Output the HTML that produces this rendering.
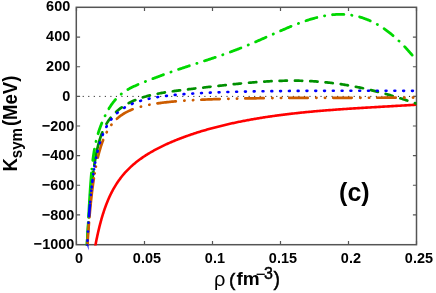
<!DOCTYPE html>
<html><head><meta charset="utf-8"><title>Ksym</title>
<style>
html,body{margin:0;padding:0;background:#fff;}
body{width:436px;height:293px;overflow:hidden;position:relative;font-family:"Liberation Sans",sans-serif;}
svg{will-change:transform;}
</style></head><body>
<svg width="436" height="293" viewBox="0 0 436 293" style="position:absolute;left:0;top:0">
<rect width="436" height="293" fill="#fff"/>
<line x1="82.7" y1="96.4" x2="416.5" y2="96.4" stroke="#222" stroke-width="1" stroke-dasharray="1.1 4.43"/>
<defs><clipPath id="cp"><rect x="76.5" y="7.5" width="340.0" height="237.9"/></clipPath></defs>
<rect x="76.3" y="7.3" width="340.2" height="237.4" fill="none" stroke="#555" stroke-width="1.5"/>
<path d="M76.50,244.5v-3.6M76.50,7.5v3.6M144.50,244.5v-3.6M144.50,7.5v3.6M212.50,244.5v-3.6M212.50,7.5v3.6M280.50,244.5v-3.6M280.50,7.5v3.6M348.50,244.5v-3.6M348.50,7.5v3.6M416.50,244.5v-3.6M416.50,7.5v3.6M76.5,7.500h3.6M416.5,7.500h-3.6M76.5,37.125h3.6M416.5,37.125h-3.6M76.5,66.750h3.6M416.5,66.750h-3.6M76.5,96.375h3.6M416.5,96.375h-3.6M76.5,126.000h3.6M416.5,126.000h-3.6M76.5,155.625h3.6M416.5,155.625h-3.6M76.5,185.250h3.6M416.5,185.250h-3.6M76.5,214.875h3.6M416.5,214.875h-3.6M76.5,244.500h3.6M416.5,244.500h-3.6" stroke="#555" stroke-width="1.2" fill="none"/>
<g clip-path="url(#cp)" fill="none" stroke-linejoin="round">
<path d="M95.20,246.51L95.35,245.71L95.50,244.91L95.65,244.13L95.80,243.35L95.95,242.58L96.10,241.82L96.25,241.06L96.40,240.31L96.55,239.57L96.70,238.84L96.85,238.12L97.00,237.40L97.15,236.69L97.30,235.99L97.45,235.29L97.60,234.61L97.75,233.92L97.90,233.25L98.05,232.58L98.20,231.92L98.35,231.27L98.50,230.62L98.65,229.98L98.80,229.35L98.95,228.72L99.10,228.10L99.25,227.49L99.40,226.88L99.55,226.28L99.70,225.68L99.85,225.09L100.00,224.51L100.15,223.93L100.30,223.35L100.45,222.79L100.60,222.23L100.75,221.67L100.90,221.12L101.05,220.58L101.20,220.04L101.35,219.50L101.50,218.97L101.65,218.45L101.80,217.93L101.95,217.42L102.10,216.91L102.25,216.40L102.40,215.90L102.55,215.41L102.70,214.92L102.85,214.43L103.00,213.95L103.15,213.48L103.30,213.01L103.45,212.54L103.60,212.07L103.75,211.62L103.90,211.16L104.05,210.71L104.20,210.27L104.35,209.82L104.50,209.39L104.65,208.95L104.80,208.52L104.95,208.10L105.10,207.67L105.25,207.25L105.40,206.84L105.55,206.43L105.70,206.02L105.85,205.62L106.00,205.22L106.15,204.82L106.30,204.43L106.45,204.04L106.60,203.65L106.75,203.27L106.90,202.89L107.05,202.51L107.20,202.14L107.35,201.77L107.50,201.40L107.65,201.03L107.80,200.67L107.95,200.32L108.10,199.96L108.25,199.61L108.40,199.26L108.55,198.91L108.70,198.57L108.85,198.23L109.00,197.89L109.15,197.56L109.30,197.22L109.45,196.89L109.60,196.57L109.75,196.24L109.90,195.92L110.05,195.60L110.20,195.28L110.35,194.97L110.50,194.66L110.65,194.35L110.80,194.04L110.95,193.73L111.10,193.43L111.25,193.13L111.40,192.83L111.55,192.54L111.70,192.24L111.85,191.95L112.00,191.66L112.15,191.38L112.30,191.09L112.45,190.81L112.60,190.53L112.75,190.25L112.90,189.97L113.05,189.70L113.20,189.43L113.35,189.16L113.50,188.89L113.65,188.62L113.80,188.36L113.95,188.09L114.10,187.83L114.25,187.57L114.40,187.32L114.55,187.06L114.70,186.81L114.85,186.56L115.00,186.31L115.15,186.06L115.30,185.81L115.45,185.56L115.60,185.32L115.75,185.08L115.90,184.84L116.05,184.60L116.20,184.36L116.35,184.13L116.50,183.89L116.65,183.66L116.80,183.43L116.95,183.20L117.10,182.97L117.25,182.75L117.40,182.52L117.55,182.30L117.70,182.08L117.85,181.86L118.00,181.64L118.15,181.42L118.30,181.20L118.45,180.99L118.60,180.77L118.75,180.56L118.90,180.35L119.05,180.14L119.20,179.93L119.35,179.72L119.50,179.52L119.65,179.31L119.80,179.11L119.95,178.91L120.00,178.84L121.00,177.52L122.00,176.26L123.00,175.04L124.00,173.86L125.00,172.73L126.00,171.63L127.00,170.57L128.00,169.55L129.00,168.55L130.00,167.59L131.00,166.65L132.00,165.75L133.00,164.86L134.00,164.01L135.00,163.17L136.00,162.36L137.00,161.57L138.00,160.79L139.00,160.04L140.00,159.30L141.00,158.58L142.00,157.88L143.00,157.19L144.00,156.51L145.00,155.85L146.00,155.21L147.00,154.57L148.00,153.95L149.00,153.34L150.00,152.74L151.00,152.16L152.00,151.58L153.00,151.01L154.00,150.46L155.00,149.91L156.00,149.37L157.00,148.84L158.00,148.32L159.00,147.80L160.00,147.30L161.00,146.80L162.00,146.31L163.00,145.83L164.00,145.35L165.00,144.88L166.00,144.42L167.00,143.96L168.00,143.51L169.00,143.07L170.00,142.63L171.00,142.20L172.00,141.77L173.00,141.35L174.00,140.93L175.00,140.52L176.00,140.12L177.00,139.71L178.00,139.32L179.00,138.93L180.00,138.54L181.00,138.16L182.00,137.78L183.00,137.41L184.00,137.04L185.00,136.68L186.00,136.31L187.00,135.96L188.00,135.61L189.00,135.26L190.00,134.91L191.00,134.57L192.00,134.24L193.00,133.90L194.00,133.57L195.00,133.25L196.00,132.93L197.00,132.61L198.00,132.29L199.00,131.98L200.00,131.67L201.00,131.36L202.00,131.06L203.00,130.76L204.00,130.47L205.00,130.17L206.00,129.89L207.00,129.60L208.00,129.32L209.00,129.03L210.00,128.76L211.00,128.48L212.00,128.21L213.00,127.94L214.00,127.68L215.00,127.41L216.00,127.15L217.00,126.89L218.00,126.64L219.00,126.39L220.00,126.14L221.00,125.89L222.00,125.64L223.00,125.40L224.00,125.16L225.00,124.92L226.00,124.69L227.00,124.46L228.00,124.23L229.00,124.00L230.00,123.78L231.00,123.55L232.00,123.33L233.00,123.11L234.00,122.90L235.00,122.68L236.00,122.47L237.00,122.26L238.00,122.06L239.00,121.85L240.00,121.65L241.00,121.45L242.00,121.25L243.00,121.06L244.00,120.86L245.00,120.67L246.00,120.48L247.00,120.29L248.00,120.11L249.00,119.92L250.00,119.74L251.00,119.56L252.00,119.38L253.00,119.21L254.00,119.03L255.00,118.86L256.00,118.69L257.00,118.52L258.00,118.35L259.00,118.19L260.00,118.02L261.00,117.86L262.00,117.70L263.00,117.54L264.00,117.39L265.00,117.23L266.00,117.08L267.00,116.93L268.00,116.78L269.00,116.63L270.00,116.49L271.00,116.34L272.00,116.20L273.00,116.06L274.00,115.92L275.00,115.78L276.00,115.64L277.00,115.51L278.00,115.37L279.00,115.24L280.00,115.11L281.00,114.98L282.00,114.85L283.00,114.72L284.00,114.60L285.00,114.47L286.00,114.35L287.00,114.23L288.00,114.11L289.00,113.99L290.00,113.87L291.00,113.76L292.00,113.64L293.00,113.53L294.00,113.42L295.00,113.31L296.00,113.20L297.00,113.09L298.00,112.98L299.00,112.87L300.00,112.77L301.00,112.66L302.00,112.56L303.00,112.46L304.00,112.36L305.00,112.26L306.00,112.16L307.00,112.06L308.00,111.97L309.00,111.87L310.00,111.78L311.00,111.68L312.00,111.59L313.00,111.50L314.00,111.41L315.00,111.32L316.00,111.23L317.00,111.14L318.00,111.06L319.00,110.97L320.00,110.89L321.00,110.80L322.00,110.72L323.00,110.64L324.00,110.55L325.00,110.47L326.00,110.39L327.00,110.31L328.00,110.23L329.00,110.16L330.00,110.08L331.00,110.00L332.00,109.93L333.00,109.85L334.00,109.78L335.00,109.70L336.00,109.63L337.00,109.56L338.00,109.49L339.00,109.41L340.00,109.34L341.00,109.27L342.00,109.20L343.00,109.14L344.00,109.07L345.00,109.00L346.00,108.93L347.00,108.86L348.00,108.80L349.00,108.73L350.00,108.67L351.00,108.60L352.00,108.54L353.00,108.47L354.00,108.41L355.00,108.35L356.00,108.28L357.00,108.22L358.00,108.16L359.00,108.10L360.00,108.03L361.00,107.97L362.00,107.91L363.00,107.85L364.00,107.79L365.00,107.73L366.00,107.67L367.00,107.61L368.00,107.55L369.00,107.49L370.00,107.43L371.00,107.37L372.00,107.31L373.00,107.25L374.00,107.20L375.00,107.14L376.00,107.08L377.00,107.02L378.00,106.96L379.00,106.91L380.00,106.85L381.00,106.79L382.00,106.73L383.00,106.67L384.00,106.62L385.00,106.56L386.00,106.50L387.00,106.44L388.00,106.38L389.00,106.33L390.00,106.27L391.00,106.21L392.00,106.15L393.00,106.09L394.00,106.04L395.00,105.98L396.00,105.92L397.00,105.86L398.00,105.80L399.00,105.74L400.00,105.68L401.00,105.62L402.00,105.57L403.00,105.51L404.00,105.45L405.00,105.39L406.00,105.33L407.00,105.26L408.00,105.20L409.00,105.14L410.00,105.08L411.00,105.02L412.00,104.96L413.00,104.89L414.00,104.83L415.00,104.77L416.00,104.70L416.50,104.67" stroke="#ff0000" stroke-width="2.6" stroke-linecap="butt"/>
<path d="M104.05,128.37L104.20,128.06L104.35,127.75L104.50,127.45L104.65,127.15L104.80,126.86L104.95,126.56L105.10,126.28L105.25,125.99L105.40,125.71L105.55,125.44L105.70,125.17L105.85,124.90L106.00,124.63L106.15,124.37L106.30,124.11L106.45,123.85L106.60,123.60L106.75,123.35L106.90,123.10L107.05,122.86L107.20,122.62L107.35,122.38L107.50,122.14L107.65,121.91L107.80,121.68L107.95,121.45L108.10,121.22L108.25,121.00L108.40,120.78L108.55,120.56L108.70,120.35L108.85,120.13L109.00,119.92L109.15,119.71L109.30,119.51L109.45,119.30L109.60,119.10L109.75,118.90L109.90,118.70L110.05,118.51L110.20,118.31L110.35,118.12L110.50,117.93L110.65,117.74L110.80,117.55L110.95,117.37L111.10,117.18L111.25,117.00L111.40,116.82L111.55,116.64L111.70,116.47L111.85,116.29L112.00,116.12L112.15,115.95L112.30,115.78L112.45,115.61L112.60,115.44L112.75,115.27L112.90,115.11L113.05,114.95L113.20,114.79L113.35,114.63L113.50,114.47L113.65,114.31L113.80,114.15L113.95,114.00L114.10,113.84L114.25,113.69L114.40,113.54L114.55,113.39L114.70,113.24L114.85,113.10L115.00,112.95L115.15,112.80L115.30,112.66L115.45,112.52L115.60,112.38L115.75,112.24L115.90,112.10L116.05,111.96L116.20,111.82L116.35,111.68L116.50,111.55L116.65,111.42L116.80,111.28L116.95,111.15L117.10,111.02L117.25,110.89L117.40,110.76L117.55,110.63L117.70,110.50L117.85,110.38L118.00,110.25L118.15,110.13L118.30,110.00L118.45,109.88L118.60,109.76L118.75,109.64L118.90,109.52L119.05,109.40L119.20,109.28L119.35,109.16L119.50,109.04L119.65,108.93L119.80,108.81L119.95,108.70L120.00,108.66L121.00,107.92L122.00,107.21L123.00,106.53L124.00,105.87L125.00,105.25L126.00,104.65L127.00,104.07L128.00,103.52L129.00,102.99L130.00,102.47L131.00,101.98L132.00,101.51L133.00,101.05L134.00,100.61L135.00,100.19L136.00,99.79L137.00,99.39L138.00,99.01L139.00,98.65L140.00,98.30L141.00,97.96L142.00,97.63L143.00,97.32L144.00,97.01L145.00,96.72L146.00,96.43L147.00,96.16L148.00,95.89L149.00,95.63L150.00,95.38L151.00,95.14L152.00,94.91L153.00,94.68L154.00,94.46L155.00,94.25L156.00,94.04L157.00,93.84L158.00,93.65L159.00,93.46L160.00,93.27L161.00,93.09L162.00,92.92L163.00,92.75L164.00,92.58L165.00,92.42L166.00,92.26L167.00,92.10L168.00,91.95L169.00,91.80L170.00,91.65L171.00,91.50L172.00,91.36L173.00,91.22L174.00,91.09L175.00,90.95L176.00,90.82L177.00,90.68L178.00,90.55L179.00,90.43L180.00,90.30L181.00,90.17L182.00,90.05L183.00,89.92L184.00,89.80L185.00,89.68L186.00,89.56L187.00,89.44L188.00,89.32L189.00,89.20L190.00,89.08L191.00,88.97L192.00,88.85L193.00,88.73L194.00,88.62L195.00,88.50L196.00,88.39L197.00,88.27L198.00,88.16L199.00,88.04L200.00,87.93L201.00,87.82L202.00,87.70L203.00,87.59L204.00,87.48L205.00,87.36L206.00,87.25L207.00,87.14L208.00,87.02L209.00,86.91L210.00,86.80L211.00,86.69L212.00,86.58L213.00,86.46L214.00,86.35L215.00,86.24L216.00,86.13L217.00,86.02L218.00,85.91L219.00,85.80L220.00,85.69L221.00,85.58L222.00,85.47L223.00,85.36L224.00,85.25L225.00,85.14L226.00,85.03L227.00,84.93L228.00,84.82L229.00,84.71L230.00,84.61L231.00,84.50L232.00,84.40L233.00,84.29L234.00,84.19L235.00,84.09L236.00,83.99L237.00,83.89L238.00,83.79L239.00,83.69L240.00,83.59L241.00,83.49L242.00,83.39L243.00,83.30L244.00,83.20L245.00,83.11L246.00,83.02L247.00,82.93L248.00,82.84L249.00,82.75L250.00,82.66L251.00,82.58L252.00,82.49L253.00,82.41L254.00,82.33L255.00,82.25L256.00,82.17L257.00,82.09L258.00,82.02L259.00,81.94L260.00,81.87L261.00,81.80L262.00,81.73L263.00,81.67L264.00,81.60L265.00,81.54L266.00,81.48L267.00,81.42L268.00,81.36L269.00,81.30L270.00,81.25L271.00,81.20L272.00,81.15L273.00,81.10L274.00,81.06L275.00,81.01L276.00,80.97L277.00,80.93L278.00,80.90L279.00,80.86L280.00,80.83L281.00,80.80L282.00,80.78L283.00,80.75L284.00,80.73L285.00,80.71L286.00,80.69L287.00,80.68L288.00,80.67L289.00,80.66L290.00,80.65L291.00,80.65L292.00,80.65L293.00,80.65L294.00,80.65L295.00,80.66L296.00,80.67L297.00,80.68L298.00,80.70L299.00,80.71L300.00,80.73L301.00,80.76L302.00,80.78L303.00,80.81L304.00,80.85L305.00,80.88L306.00,80.92L307.00,80.96L308.00,81.01L309.00,81.05L310.00,81.10L311.00,81.16L312.00,81.21L313.00,81.27L314.00,81.33L315.00,81.40L316.00,81.47L317.00,81.54L318.00,81.61L319.00,81.69L320.00,81.77L321.00,81.86L322.00,81.95L323.00,82.04L324.00,82.13L325.00,82.23L326.00,82.33L327.00,82.43L328.00,82.54L329.00,82.65L330.00,82.76L331.00,82.87L332.00,82.99L333.00,83.12L334.00,83.24L335.00,83.37L336.00,83.50L337.00,83.64L338.00,83.77L339.00,83.92L340.00,84.06L341.00,84.21L342.00,84.36L343.00,84.51L344.00,84.67L345.00,84.83L346.00,85.00L347.00,85.16L348.00,85.33L349.00,85.51L350.00,85.68L351.00,85.86L352.00,86.04L353.00,86.23L354.00,86.42L355.00,86.61L356.00,86.80L357.00,87.00L358.00,87.20L359.00,87.41L360.00,87.62L361.00,87.83L362.00,88.04L363.00,88.25L364.00,88.47L365.00,88.70L366.00,88.92L367.00,89.15L368.00,89.38L369.00,89.61L370.00,89.85L371.00,90.09L372.00,90.33L373.00,90.58L374.00,90.83L375.00,91.08L376.00,91.33L377.00,91.59L378.00,91.85L379.00,92.11L380.00,92.37L381.00,92.64L382.00,92.91L383.00,93.18L384.00,93.46L385.00,93.74L386.00,94.02L387.00,94.30L388.00,94.58L389.00,94.87L390.00,95.16L391.00,95.45L392.00,95.75L393.00,96.05L394.00,96.35L395.00,96.65L396.00,96.95L397.00,97.26L398.00,97.57L399.00,97.88L400.00,98.19L401.00,98.51L402.00,98.83L403.00,99.15L404.00,99.47L405.00,99.79L406.00,100.12L407.00,100.44L408.00,100.77L409.00,101.10L410.00,101.44L411.00,101.77L412.00,102.11L413.00,102.45L414.00,102.79L415.00,103.13L416.00,103.48L416.50,103.65" stroke="#009000" stroke-width="2.7" stroke-linecap="round" stroke-dasharray="7.3 8.03" stroke-dashoffset="10.12"/>
<path d="M102.30,132.35L102.25,132.48L102.10,132.85L101.95,133.24L101.80,133.62L101.65,134.02L101.50,134.42L101.35,134.83L101.20,135.24L101.05,135.66L100.90,136.09L100.75,136.52L100.60,136.96L100.45,137.41L100.30,137.87L100.15,138.33L100.00,138.81L99.85,139.29L99.70,139.78L99.55,140.27L99.40,140.78L99.25,141.29L99.10,141.82L98.95,142.35L98.80,142.90L98.65,143.45L98.50,144.01L98.35,144.59L98.20,145.17L98.05,145.77L97.90,146.37L97.75,146.99L97.60,147.62L97.45,148.26L97.30,148.92L97.15,149.58L97.00,150.26L96.85,150.96L96.70,151.66L96.55,152.39L96.40,153.12L96.25,153.87L96.10,154.64L95.95,155.42L95.80,156.21L95.65,157.02L95.50,157.85L95.35,158.70L95.20,159.56L95.05,160.44L94.90,161.34L94.75,162.26L94.60,163.20L94.45,164.15L94.30,165.13L94.30,165.15M93.41,171.35L93.40,171.43L93.25,172.56L93.10,173.72L92.95,174.90L92.80,176.10L92.65,177.33L92.50,178.58L92.35,179.86L92.20,181.17L92.05,182.50L91.90,183.86L91.75,185.25L91.60,186.67L91.45,188.12L91.30,189.59L91.15,191.10L91.00,192.64L90.85,194.20L90.70,195.80L90.55,197.43L90.40,199.08L90.25,200.77L90.10,202.49L89.95,204.24L89.80,206.03L89.65,207.84L89.50,209.68L89.35,211.55L89.20,213.45L89.05,215.37L88.91,217.15M88.50,222.65L88.45,223.33L88.30,225.38L88.15,227.44L88.00,229.51L87.85,231.60L87.70,233.69L87.55,235.79L87.40,237.88L87.25,239.97L87.10,242.05L87.10,245.65" stroke="#009000" stroke-width="2.7" stroke-linecap="round"/>
<path d="M92.30,164.81L92.45,163.46L92.60,162.16L92.75,160.90L92.90,159.68L93.05,158.51L93.20,157.37L93.35,156.27L93.50,155.21L93.65,154.18L93.80,153.18L93.95,152.21L94.10,151.28L94.25,150.37L94.40,149.49L94.55,148.63L94.70,147.80L94.85,146.99L95.00,146.21L95.15,145.44L95.30,144.70L95.45,143.97L95.60,143.27L95.75,142.58L95.90,141.91L96.05,141.25L96.20,140.61L96.35,139.99L96.50,139.38L96.65,138.78L96.80,138.19L96.95,137.61L97.10,137.05L97.25,136.50L97.40,135.96L97.55,135.42L97.70,134.90L97.85,134.39L98.00,133.88L98.15,133.39L98.30,132.90L98.45,132.42L98.60,131.94L98.75,131.47L98.90,131.01L99.05,130.56L99.20,130.11L99.35,129.67L99.50,129.23L99.65,128.80L99.80,128.37L99.95,127.95L100.10,127.54L100.25,127.12L100.40,126.72L100.55,126.31L100.70,125.92L100.85,125.52L101.00,125.13L101.15,124.75L101.30,124.36L101.45,123.98L101.60,123.61L101.75,123.24L101.90,122.87L102.05,122.50L102.20,122.14L102.35,121.78L102.50,121.43L102.65,121.07L102.80,120.73L102.95,120.38L103.10,120.04L103.25,119.69L103.40,119.36L103.55,119.02L103.70,118.69L103.85,118.36L104.00,118.03L104.15,117.71L104.30,117.39L104.45,117.07L104.60,116.75L104.75,116.44L104.90,116.12L105.05,115.82L105.20,115.51L105.35,115.20L105.50,114.90L105.65,114.60L105.80,114.31L105.95,114.01L106.10,113.72L106.25,113.43L106.40,113.14L106.55,112.85L106.70,112.57L106.85,112.29L107.00,112.01L107.15,111.74L107.30,111.46L107.45,111.19L107.60,110.92L107.75,110.65L107.90,110.39L108.05,110.12L108.20,109.86L108.35,109.60L108.50,109.35L108.65,109.09L108.80,108.84L108.95,108.59L109.10,108.34L109.25,108.09L109.40,107.85L109.55,107.61L109.70,107.37L109.85,107.13L110.00,106.89L110.15,106.66L110.30,106.43L110.45,106.20L110.60,105.97L110.75,105.74L110.90,105.52L111.05,105.30L111.20,105.08L111.35,104.86L111.50,104.64L111.65,104.43L111.80,104.21L111.95,104.00L112.10,103.79L112.25,103.59L112.40,103.38L112.55,103.18L112.70,102.98L112.85,102.78L113.00,102.58L113.15,102.38L113.30,102.19L113.45,102.00L113.60,101.80L113.75,101.62L113.90,101.43L114.05,101.24L114.20,101.06L114.35,100.88L114.50,100.69L114.65,100.51L114.80,100.34L114.95,100.16L115.10,99.99L115.25,99.81L115.40,99.64L115.55,99.47L115.70,99.30L115.85,99.14L116.00,98.97L116.15,98.81L116.30,98.65L116.45,98.49L116.60,98.33L116.75,98.17L116.90,98.01L117.05,97.86L117.20,97.70L117.35,97.55L117.50,97.40L117.65,97.25L117.80,97.10L117.95,96.96L118.10,96.81L118.25,96.67L118.40,96.52L118.55,96.38L118.70,96.24L118.85,96.10L119.00,95.96L119.15,95.83L119.30,95.69L119.45,95.56L119.60,95.42L119.75,95.29L119.90,95.16L120.00,95.07L121.00,94.24L122.00,93.44L123.00,92.69L124.00,91.98L125.00,91.31L126.00,90.66L127.00,90.05L128.00,89.46L129.00,88.90L130.00,88.35L131.00,87.83L132.00,87.33L133.00,86.84L134.00,86.36L135.00,85.90L136.00,85.45L137.00,85.00L138.00,84.57L139.00,84.14L140.00,83.72L141.00,83.30L142.00,82.90L143.00,82.49L144.00,82.09L145.00,81.69L146.00,81.30L147.00,80.90L148.00,80.51L149.00,80.13L150.00,79.74L151.00,79.36L152.00,78.97L153.00,78.59L154.00,78.21L155.00,77.84L156.00,77.46L157.00,77.09L158.00,76.71L159.00,76.34L160.00,75.97L161.00,75.60L162.00,75.23L163.00,74.87L164.00,74.50L165.00,74.14L166.00,73.78L167.00,73.42L168.00,73.06L169.00,72.71L170.00,72.35L171.00,72.00L172.00,71.65L173.00,71.30L174.00,70.95L175.00,70.61L176.00,70.26L177.00,69.92L178.00,69.58L179.00,69.24L180.00,68.90L181.00,68.57L182.00,68.23L183.00,67.90L184.00,67.57L185.00,67.24L186.00,66.91L187.00,66.58L188.00,66.25L189.00,65.92L190.00,65.60L191.00,65.27L192.00,64.95L193.00,64.63L194.00,64.30L195.00,63.98L196.00,63.66L197.00,63.34L198.00,63.01L199.00,62.69L200.00,62.37L201.00,62.05L202.00,61.72L203.00,61.40L204.00,61.08L205.00,60.75L206.00,60.43L207.00,60.10L208.00,59.77L209.00,59.45L210.00,59.12L211.00,58.79L212.00,58.45L213.00,58.12L214.00,57.78L215.00,57.45L216.00,57.11L217.00,56.77L218.00,56.43L219.00,56.08L220.00,55.74L221.00,55.39L222.00,55.04L223.00,54.69L224.00,54.33L225.00,53.98L226.00,53.62L227.00,53.25L228.00,52.89L229.00,52.52L230.00,52.15L231.00,51.78L232.00,51.41L233.00,51.03L234.00,50.65L235.00,50.27L236.00,49.89L237.00,49.50L238.00,49.11L239.00,48.72L240.00,48.32L241.00,47.92L242.00,47.52L243.00,47.12L244.00,46.71L245.00,46.31L246.00,45.90L247.00,45.48L248.00,45.07L249.00,44.65L250.00,44.23L251.00,43.81L252.00,43.39L253.00,42.96L254.00,42.53L255.00,42.10L256.00,41.67L257.00,41.24L258.00,40.81L259.00,40.37L260.00,39.93L261.00,39.49L262.00,39.05L263.00,38.61L264.00,38.17L265.00,37.73L266.00,37.29L267.00,36.84L268.00,36.40L269.00,35.95L270.00,35.51L271.00,35.06L272.00,34.62L273.00,34.18L274.00,33.73L275.00,33.29L276.00,32.85L277.00,32.40L278.00,31.96L279.00,31.52L280.00,31.08L281.00,30.65L282.00,30.21L283.00,29.78L284.00,29.35L285.00,28.92L286.00,28.49L287.00,28.07L288.00,27.65L289.00,27.23L290.00,26.81L291.00,26.40L292.00,25.99L293.00,25.59L294.00,25.19L295.00,24.79L296.00,24.40L297.00,24.01L298.00,23.63L299.00,23.25L300.00,22.88L301.00,22.51L302.00,22.14L303.00,21.79L304.00,21.44L305.00,21.09L306.00,20.75L307.00,20.42L308.00,20.09L309.00,19.77L310.00,19.46L311.00,19.16L312.00,18.86L313.00,18.57L314.00,18.29L315.00,18.01L316.00,17.75L317.00,17.49L318.00,17.24L319.00,17.00L320.00,16.77L321.00,16.55L322.00,16.34L323.00,16.14L324.00,15.94L325.00,15.76L326.00,15.59L327.00,15.43L328.00,15.28L329.00,15.13L330.00,15.01L331.00,14.89L332.00,14.78L333.00,14.68L334.00,14.60L335.00,14.53L336.00,14.47L337.00,14.42L338.00,14.39L339.00,14.36L340.00,14.35L341.00,14.36L342.00,14.37L343.00,14.40L344.00,14.44L345.00,14.50L346.00,14.57L347.00,14.65L348.00,14.75L349.00,14.86L350.00,14.99L351.00,15.13L352.00,15.29L353.00,15.46L354.00,15.64L355.00,15.84L356.00,16.06L357.00,16.29L358.00,16.53L359.00,16.80L360.00,17.07L361.00,17.37L362.00,17.67L363.00,18.00L364.00,18.34L365.00,18.70L366.00,19.07L367.00,19.46L368.00,19.87L369.00,20.29L370.00,20.73L371.00,21.19L372.00,21.66L373.00,22.15L374.00,22.66L375.00,23.18L376.00,23.73L377.00,24.29L378.00,24.86L379.00,25.46L380.00,26.07L381.00,26.69L382.00,27.34L383.00,28.00L384.00,28.68L385.00,29.38L386.00,30.10L387.00,30.83L388.00,31.59L389.00,32.35L390.00,33.14L391.00,33.95L392.00,34.77L393.00,35.61L394.00,36.47L395.00,37.34L396.00,38.24L397.00,39.15L398.00,40.08L399.00,41.02L400.00,41.99L401.00,42.97L402.00,43.97L403.00,44.98L404.00,46.02L405.00,47.07L406.00,48.14L407.00,49.22L408.00,50.33L409.00,51.45L410.00,52.59L411.00,53.74L412.00,54.91L413.00,56.10L414.00,57.31L415.00,58.53L416.00,59.77L416.50,60.39" stroke="#00d800" stroke-width="2.8" stroke-linecap="round" stroke-dasharray="11.4 7.8 0.3 7.8" stroke-dashoffset="22.94"/>
<path d="M91.86,169.05L91.86,169.10M91.50,172.90L91.40,173.98L91.25,175.70L91.10,177.48L90.95,179.33L90.80,181.24L90.65,183.22L90.50,185.26L90.35,187.37L90.20,189.54L90.05,191.79L89.90,194.11L89.75,196.49L89.60,198.94L89.45,201.45L89.30,204.03L89.15,206.67L89.00,209.36L88.85,212.10L88.70,214.89L88.58,217.10M88.29,222.70L88.25,223.40L88.10,226.26L87.95,229.08L87.80,231.87L87.65,234.59L87.50,237.21L87.35,239.70L87.20,242.02L87.05,244.13L86.93,245.60" stroke="#00d800" stroke-width="2.8" stroke-linecap="round"/>
<path d="M97.00,161.13L97.15,160.45L97.30,159.78L97.45,159.11L97.60,158.46L97.75,157.82L97.90,157.19L98.05,156.56L98.20,155.95L98.35,155.35L98.50,154.75L98.65,154.17L98.80,153.59L98.95,153.02L99.10,152.46L99.25,151.91L99.40,151.37L99.55,150.83L99.70,150.30L99.85,149.78L100.00,149.27L100.15,148.76L100.30,148.27L100.45,147.78L100.60,147.29L100.75,146.82L100.90,146.34L101.05,145.88L101.20,145.42L101.35,144.97L101.50,144.53L101.65,144.09L101.80,143.66L101.95,143.23L102.10,142.81L102.25,142.39L102.40,141.98L102.55,141.58L102.70,141.18L102.85,140.79L103.00,140.40L103.15,140.02L103.30,139.64L103.45,139.27L103.60,138.90L103.75,138.53L103.90,138.17L104.05,137.82L104.20,137.47L104.35,137.13L104.50,136.78L104.65,136.45L104.80,136.12L104.95,135.79L105.10,135.46L105.25,135.14L105.40,134.83L105.55,134.52L105.70,134.21L105.85,133.90L106.00,133.60L106.15,133.30L106.30,133.01L106.45,132.72L106.60,132.43L106.75,132.15L106.90,131.87L107.05,131.60L107.20,131.32L107.35,131.05L107.50,130.79L107.65,130.52L107.80,130.26L107.95,130.00L108.10,129.75L108.25,129.50L108.40,129.25L108.55,129.00L108.70,128.76L108.85,128.52L109.00,128.28L109.15,128.05L109.30,127.82L109.45,127.59L109.60,127.36L109.75,127.13L109.90,126.91L110.05,126.69L110.20,126.48L110.35,126.26L110.50,126.05L110.65,125.84L110.80,125.63L110.95,125.42L111.10,125.22L111.25,125.02L111.40,124.82L111.55,124.62L111.70,124.43L111.85,124.24L112.00,124.05L112.15,123.86L112.30,123.67L112.45,123.49L112.60,123.30L112.75,123.12L112.90,122.94L113.05,122.77L113.20,122.59L113.35,122.42L113.50,122.25L113.65,122.08L113.80,121.91L113.95,121.74L114.10,121.58L114.25,121.41L114.40,121.25L114.55,121.09L114.70,120.93L114.85,120.77L115.00,120.62L115.15,120.47L115.30,120.31L115.45,120.16L115.60,120.01L115.75,119.86L115.90,119.72L116.05,119.57L116.20,119.43L116.35,119.29L116.50,119.15L116.65,119.01L116.80,118.87L116.95,118.73L117.10,118.60L117.25,118.46L117.40,118.33L117.55,118.20L117.70,118.07L117.85,117.94L118.00,117.81L118.15,117.68L118.30,117.56L118.45,117.43L118.60,117.31L118.75,117.19L118.90,117.06L119.05,116.94L119.20,116.82L119.35,116.71L119.50,116.59L119.65,116.47L119.80,116.36L119.95,116.25L120.00,116.21L121.00,115.48L122.00,114.79L123.00,114.13L124.00,113.52L125.00,112.94L126.00,112.38L127.00,111.86L128.00,111.36L129.00,110.89L130.00,110.44L131.00,110.01L132.00,109.60L133.00,109.22L134.00,108.85L135.00,108.49L136.00,108.15L137.00,107.83L138.00,107.52L139.00,107.22L140.00,106.94L141.00,106.67L142.00,106.40L143.00,106.15L144.00,105.91L145.00,105.68L146.00,105.46L147.00,105.24L148.00,105.03L149.00,104.83L150.00,104.64L151.00,104.46L152.00,104.28L153.00,104.10L154.00,103.94L155.00,103.77L156.00,103.62L157.00,103.47L158.00,103.32L159.00,103.18L160.00,103.04L161.00,102.91L162.00,102.78L163.00,102.65L164.00,102.53L165.00,102.42L166.00,102.30L167.00,102.19L168.00,102.08L169.00,101.98L170.00,101.88L171.00,101.78L172.00,101.68L173.00,101.59L174.00,101.50L175.00,101.41L176.00,101.32L177.00,101.24L178.00,101.16L179.00,101.08L180.00,101.00L181.00,100.92L182.00,100.85L183.00,100.78L184.00,100.71L185.00,100.64L186.00,100.57L187.00,100.51L188.00,100.44L189.00,100.38L190.00,100.32L191.00,100.26L192.00,100.20L193.00,100.15L194.00,100.09L195.00,100.04L196.00,99.99L197.00,99.93L198.00,99.88L199.00,99.84L200.00,99.79L201.00,99.74L202.00,99.69L203.00,99.65L204.00,99.61L205.00,99.56L206.00,99.52L207.00,99.48L208.00,99.44L209.00,99.40L210.00,99.36L211.00,99.33L212.00,99.29L213.00,99.25L214.00,99.22L215.00,99.19L216.00,99.15L217.00,99.12L218.00,99.09L219.00,99.06L220.00,99.03L221.00,99.00L222.00,98.97L223.00,98.94L224.00,98.91L225.00,98.88L226.00,98.86L227.00,98.83L228.00,98.80L229.00,98.78L230.00,98.75L231.00,98.73L232.00,98.71L233.00,98.68L234.00,98.66L235.00,98.64L236.00,98.62L237.00,98.60L238.00,98.58L239.00,98.56L240.00,98.54L241.00,98.52L242.00,98.50L243.00,98.48L244.00,98.46L245.00,98.44L246.00,98.43L247.00,98.41L248.00,98.39L249.00,98.38L250.00,98.36L251.00,98.35L252.00,98.33L253.00,98.32L254.00,98.30L255.00,98.29L256.00,98.28L257.00,98.26L258.00,98.25L259.00,98.24L260.00,98.22L261.00,98.21L262.00,98.20L263.00,98.19L264.00,98.18L265.00,98.17L266.00,98.16L267.00,98.15L268.00,98.14L269.00,98.13L270.00,98.12L271.00,98.11L272.00,98.10L273.00,98.09L274.00,98.08L275.00,98.07L276.00,98.06L277.00,98.06L278.00,98.05L279.00,98.04L280.00,98.03L281.00,98.02L282.00,98.02L283.00,98.01L284.00,98.00L285.00,98.00L286.00,97.99L287.00,97.99L288.00,97.98L289.00,97.97L290.00,97.97L291.00,97.96L292.00,97.96L293.00,97.95L294.00,97.95L295.00,97.94L296.00,97.94L297.00,97.93L298.00,97.93L299.00,97.92L300.00,97.92L301.00,97.91L302.00,97.91L303.00,97.91L304.00,97.90L305.00,97.90L306.00,97.89L307.00,97.89L308.00,97.89L309.00,97.88L310.00,97.88L311.00,97.88L312.00,97.88L313.00,97.87L314.00,97.87L315.00,97.87L316.00,97.86L317.00,97.86L318.00,97.86L319.00,97.86L320.00,97.85L321.00,97.85L322.00,97.85L323.00,97.85L324.00,97.84L325.00,97.84L326.00,97.84L327.00,97.84L328.00,97.84L329.00,97.83L330.00,97.83L331.00,97.83L332.00,97.83L333.00,97.83L334.00,97.82L335.00,97.82L336.00,97.82L337.00,97.82L338.00,97.82L339.00,97.81L340.00,97.81L341.00,97.81L342.00,97.81L343.00,97.81L344.00,97.81L345.00,97.80L346.00,97.80L347.00,97.80L348.00,97.80L349.00,97.80L350.00,97.80L351.00,97.79L352.00,97.79L353.00,97.79L354.00,97.79L355.00,97.79L356.00,97.79L357.00,97.78L358.00,97.78L359.00,97.78L360.00,97.78L361.00,97.78L362.00,97.78L363.00,97.77L364.00,97.77L365.00,97.77L366.00,97.77L367.00,97.77L368.00,97.76L369.00,97.76L370.00,97.76L371.00,97.76L372.00,97.75L373.00,97.75L374.00,97.75L375.00,97.75L376.00,97.75L377.00,97.74L378.00,97.74L379.00,97.74L380.00,97.74L381.00,97.73L382.00,97.73L383.00,97.73L384.00,97.72L385.00,97.72L386.00,97.72L387.00,97.71L388.00,97.71L389.00,97.71L390.00,97.71L391.00,97.70L392.00,97.70L393.00,97.70L394.00,97.69L395.00,97.69L396.00,97.68L397.00,97.68L398.00,97.68L399.00,97.67L400.00,97.67L401.00,97.66L402.00,97.66L403.00,97.66L404.00,97.65L405.00,97.65L406.00,97.64L407.00,97.64L408.00,97.63L409.00,97.63L410.00,97.62L411.00,97.62L412.00,97.61L413.00,97.61L414.00,97.60L415.00,97.60L416.00,97.59L416.50,97.59" stroke="#cc5c00" stroke-width="2.7" stroke-linecap="round" stroke-dasharray="18.5 8.5 0.3 8.4 0.3 8.0" stroke-dashoffset="40.47"/>
<path d="M95.88,166.60L95.87,166.65M94.66,173.40L94.65,173.45M93.87,178.35L93.85,178.46L93.70,179.45L93.55,180.46L93.40,181.49L93.25,182.53L93.10,183.60L92.95,184.69L92.80,185.79L92.65,186.92L92.50,188.07L92.35,189.24L92.20,190.43L92.05,191.65L91.90,192.89L91.75,194.15L91.60,195.44L91.45,196.75L91.30,198.09L91.15,199.46L91.00,200.85L90.85,202.28L90.70,203.73L90.55,205.21L90.40,206.72L90.25,208.26L90.10,209.84L89.95,211.45L89.80,213.09L89.65,214.77L89.50,216.48L89.44,217.15M88.99,222.65L88.90,223.72L88.75,225.62L88.60,227.58L88.45,229.57L88.30,231.61L88.15,233.70L88.00,235.84L87.85,238.02L87.70,240.26L87.70,245.65" stroke="#cc5c00" stroke-width="2.7" stroke-linecap="round"/>
<path d="M97.00,153.69L97.15,153.04L97.30,152.39L97.45,151.76L97.60,151.14L97.75,150.52L97.90,149.92L98.05,149.33L98.20,148.74L98.35,148.17L98.50,147.60L98.65,147.05L98.80,146.50L98.95,145.96L99.10,145.43L99.25,144.90L99.40,144.39L99.55,143.88L99.70,143.38L99.85,142.89L100.00,142.40L100.15,141.93L100.30,141.45L100.45,140.99L100.60,140.53L100.75,140.08L100.90,139.64L101.05,139.20L101.20,138.77L101.35,138.34L101.50,137.92L101.65,137.51L101.80,137.10L101.95,136.69L102.10,136.30L102.25,135.90L102.40,135.52L102.55,135.13L102.70,134.76L102.85,134.39L103.00,134.02L103.15,133.66L103.30,133.30L103.45,132.95L103.60,132.60L103.75,132.25L103.90,131.91L104.05,131.58L104.20,131.25L104.35,130.92L104.50,130.60L104.65,130.28L104.80,129.97L104.95,129.65L105.10,129.35L105.25,129.04L105.40,128.74L105.55,128.45L105.70,128.16L105.85,127.87L106.00,127.58L106.15,127.30L106.30,127.02L106.45,126.74L106.60,126.47L106.75,126.20L106.90,125.94L107.05,125.67L107.20,125.41L107.35,125.15L107.50,124.90L107.65,124.65L107.80,124.40L107.95,124.15L108.10,123.91L108.25,123.67L108.40,123.43L108.55,123.20L108.70,122.97L108.85,122.73L109.00,122.51L109.15,122.28L109.30,122.06L109.45,121.84L109.60,121.62L109.75,121.41L109.90,121.19L110.05,120.98L110.20,120.77L110.35,120.56L110.50,120.36L110.65,120.16L110.80,119.96L110.95,119.76L111.10,119.56L111.25,119.37L111.40,119.17L111.55,118.98L111.70,118.80L111.85,118.61L112.00,118.42L112.15,118.24L112.30,118.06L112.45,117.88L112.60,117.70L112.75,117.53L112.90,117.35L113.05,117.18L113.20,117.01L113.35,116.84L113.50,116.67L113.65,116.50L113.80,116.34L113.95,116.18L114.10,116.02L114.25,115.86L114.40,115.70L114.55,115.54L114.70,115.39L114.85,115.23L115.00,115.08L115.15,114.93L115.30,114.78L115.45,114.63L115.60,114.48L115.75,114.34L115.90,114.19L116.05,114.05L116.20,113.91L116.35,113.77L116.50,113.63L116.65,113.49L116.80,113.35L116.95,113.22L117.10,113.08L117.25,112.95L117.40,112.82L117.55,112.68L117.70,112.55L117.85,112.43L118.00,112.30L118.15,112.17L118.30,112.05L118.45,111.92L118.60,111.80L118.75,111.68L118.90,111.55L119.05,111.43L119.20,111.31L119.35,111.20L119.50,111.08L119.65,110.96L119.80,110.85L119.95,110.73L120.00,110.70L121.00,109.96L122.00,109.26L123.00,108.60L124.00,107.97L125.00,107.37L126.00,106.80L127.00,106.26L128.00,105.74L129.00,105.25L130.00,104.77L131.00,104.32L132.00,103.89L133.00,103.48L134.00,103.09L135.00,102.71L136.00,102.35L137.00,102.00L138.00,101.67L139.00,101.34L140.00,101.04L141.00,100.74L142.00,100.45L143.00,100.18L144.00,99.92L145.00,99.66L146.00,99.41L147.00,99.18L148.00,98.95L149.00,98.73L150.00,98.52L151.00,98.31L152.00,98.11L153.00,97.92L154.00,97.73L155.00,97.55L156.00,97.38L157.00,97.21L158.00,97.04L159.00,96.89L160.00,96.73L161.00,96.58L162.00,96.44L163.00,96.30L164.00,96.16L165.00,96.03L166.00,95.90L167.00,95.78L168.00,95.66L169.00,95.54L170.00,95.42L171.00,95.31L172.00,95.21L173.00,95.10L174.00,95.00L175.00,94.90L176.00,94.80L177.00,94.71L178.00,94.62L179.00,94.53L180.00,94.44L181.00,94.36L182.00,94.27L183.00,94.19L184.00,94.11L185.00,94.04L186.00,93.96L187.00,93.89L188.00,93.82L189.00,93.75L190.00,93.68L191.00,93.62L192.00,93.55L193.00,93.49L194.00,93.43L195.00,93.37L196.00,93.31L197.00,93.25L198.00,93.20L199.00,93.14L200.00,93.09L201.00,93.04L202.00,92.99L203.00,92.94L204.00,92.89L205.00,92.84L206.00,92.79L207.00,92.75L208.00,92.70L209.00,92.66L210.00,92.62L211.00,92.58L212.00,92.54L213.00,92.50L214.00,92.46L215.00,92.42L216.00,92.38L217.00,92.35L218.00,92.31L219.00,92.28L220.00,92.24L221.00,92.21L222.00,92.17L223.00,92.14L224.00,92.11L225.00,92.08L226.00,92.05L227.00,92.02L228.00,91.99L229.00,91.96L230.00,91.93L231.00,91.91L232.00,91.88L233.00,91.85L234.00,91.83L235.00,91.80L236.00,91.78L237.00,91.75L238.00,91.73L239.00,91.71L240.00,91.69L241.00,91.66L242.00,91.64L243.00,91.62L244.00,91.60L245.00,91.58L246.00,91.56L247.00,91.54L248.00,91.52L249.00,91.50L250.00,91.48L251.00,91.46L252.00,91.45L253.00,91.43L254.00,91.41L255.00,91.39L256.00,91.38L257.00,91.36L258.00,91.34L259.00,91.33L260.00,91.31L261.00,91.30L262.00,91.28L263.00,91.27L264.00,91.26L265.00,91.24L266.00,91.23L267.00,91.22L268.00,91.20L269.00,91.19L270.00,91.18L271.00,91.16L272.00,91.15L273.00,91.14L274.00,91.13L275.00,91.12L276.00,91.11L277.00,91.10L278.00,91.09L279.00,91.07L280.00,91.06L281.00,91.05L282.00,91.04L283.00,91.04L284.00,91.03L285.00,91.02L286.00,91.01L287.00,91.00L288.00,90.99L289.00,90.98L290.00,90.97L291.00,90.97L292.00,90.96L293.00,90.95L294.00,90.94L295.00,90.94L296.00,90.93L297.00,90.92L298.00,90.91L299.00,90.91L300.00,90.90L301.00,90.89L302.00,90.89L303.00,90.88L304.00,90.88L305.00,90.87L306.00,90.86L307.00,90.86L308.00,90.85L309.00,90.85L310.00,90.84L311.00,90.84L312.00,90.83L313.00,90.83L314.00,90.82L315.00,90.82L316.00,90.81L317.00,90.81L318.00,90.81L319.00,90.80L320.00,90.80L321.00,90.80L322.00,90.79L323.00,90.79L324.00,90.78L325.00,90.78L326.00,90.78L327.00,90.77L328.00,90.77L329.00,90.77L330.00,90.77L331.00,90.76L332.00,90.76L333.00,90.76L334.00,90.76L335.00,90.75L336.00,90.75L337.00,90.75L338.00,90.75L339.00,90.75L340.00,90.74L341.00,90.74L342.00,90.74L343.00,90.74L344.00,90.74L345.00,90.74L346.00,90.74L347.00,90.73L348.00,90.73L349.00,90.73L350.00,90.73L351.00,90.73L352.00,90.73L353.00,90.73L354.00,90.73L355.00,90.73L356.00,90.73L357.00,90.73L358.00,90.73L359.00,90.73L360.00,90.73L361.00,90.73L362.00,90.73L363.00,90.73L364.00,90.73L365.00,90.73L366.00,90.73L367.00,90.73L368.00,90.73L369.00,90.73L370.00,90.73L371.00,90.73L372.00,90.73L373.00,90.73L374.00,90.73L375.00,90.74L376.00,90.74L377.00,90.74L378.00,90.74L379.00,90.74L380.00,90.74L381.00,90.74L382.00,90.74L383.00,90.75L384.00,90.75L385.00,90.75L386.00,90.75L387.00,90.75L388.00,90.75L389.00,90.76L390.00,90.76L391.00,90.76L392.00,90.76L393.00,90.76L394.00,90.77L395.00,90.77L396.00,90.77L397.00,90.77L398.00,90.78L399.00,90.78L400.00,90.78L401.00,90.78L402.00,90.79L403.00,90.79L404.00,90.79L405.00,90.80L406.00,90.80L407.00,90.80L408.00,90.80L409.00,90.81L410.00,90.81L411.00,90.81L412.00,90.82L413.00,90.82L414.00,90.82L415.00,90.83L416.00,90.83L416.50,90.83" stroke="#0000ff" stroke-width="2.7" stroke-linecap="round" stroke-dasharray="0.8 7.99" stroke-dashoffset="6.74"/>
<path d="M96.14,157.65L96.13,157.70M95.18,162.60L95.17,162.65M94.55,166.20L94.54,166.25M94.05,169.25L94.04,169.30M93.31,174.10L93.31,174.15M92.50,180.05L92.50,180.07L92.35,181.25L92.28,181.85M91.71,186.55L91.62,187.35M91.26,190.70L91.25,190.75M90.83,194.85L90.82,194.90M90.17,201.80L90.16,201.85M89.90,204.85L89.80,206.04L89.65,207.84L89.50,209.69L89.35,211.59L89.20,213.54L89.05,215.55L89.00,216.25M88.55,222.70L88.54,222.75M87.99,231.50L87.98,231.55M87.48,240.35L87.46,240.65M87.21,245.35L87.20,245.65" stroke="#0000ff" stroke-width="2.7" stroke-linecap="round"/>
</g>
<path d="M87.1,245.3L88.5,245.3L88.6,250.4Z" fill="#0000ff"/>
<g font-family="Liberation Sans, sans-serif" font-weight="bold" font-size="15.2" fill="#000">
<text transform="translate(70.2,11.10) scale(0.95,1)" text-anchor="end">600</text>
<text transform="translate(70.2,41.43) scale(0.95,1)" text-anchor="end">400</text>
<text transform="translate(70.2,71.15) scale(0.95,1)" text-anchor="end">200</text>
<text transform="translate(70.2,101.27) scale(0.95,1)" text-anchor="end">0</text>
<text transform="translate(74.4,130.90) scale(0.95,1)" text-anchor="end">−200</text>
<text transform="translate(74.4,160.42) scale(0.95,1)" text-anchor="end">−400</text>
<text transform="translate(74.4,190.05) scale(0.95,1)" text-anchor="end">−600</text>
<text transform="translate(74.4,219.67) scale(0.95,1)" text-anchor="end">−800</text>
<text transform="translate(74.4,249.20) scale(0.95,1)" text-anchor="end">−1000</text>
<text transform="translate(78.90,262.6) scale(0.95,1)" text-anchor="middle">0</text>
<text transform="translate(146.90,262.6) scale(0.95,1)" text-anchor="middle">0.05</text>
<text transform="translate(214.90,262.6) scale(0.95,1)" text-anchor="middle">0.1</text>
<text transform="translate(282.90,262.6) scale(0.95,1)" text-anchor="middle">0.15</text>
<text transform="translate(350.90,262.6) scale(0.95,1)" text-anchor="middle">0.2</text>
<text transform="translate(418.90,262.6) scale(0.95,1)" text-anchor="middle">0.25</text>
</g>
<g font-family="Liberation Sans, sans-serif" font-weight="bold" fill="#000">
<text font-size="25" x="339.1" y="200.5">(c)</text>
<text font-size="19.8" transform="translate(17.4,171.6) rotate(-90) scale(0.935,1)">K<tspan font-size="16.2" dy="4.6">sym</tspan><tspan dy="-4.6" dx="2.0">(MeV)</tspan></text>
<g font-weight="normal" stroke="#000" stroke-width="0.45"><text font-size="20" x="214.1" y="286.1" stroke="none">ρ</text><text font-size="19" x="229" y="285.5">(</text><text font-size="19" font-weight="bold" stroke="none" x="236.4" y="284.5">fm</text><text font-size="16" x="264" y="278.6">3</text><text font-size="19.5" x="273.6" y="285.7">)</text><path d="M256.6,274.3H264.8" stroke="#000" stroke-width="1.3" fill="none"/></g>
</g>
</svg>
</body></html>
